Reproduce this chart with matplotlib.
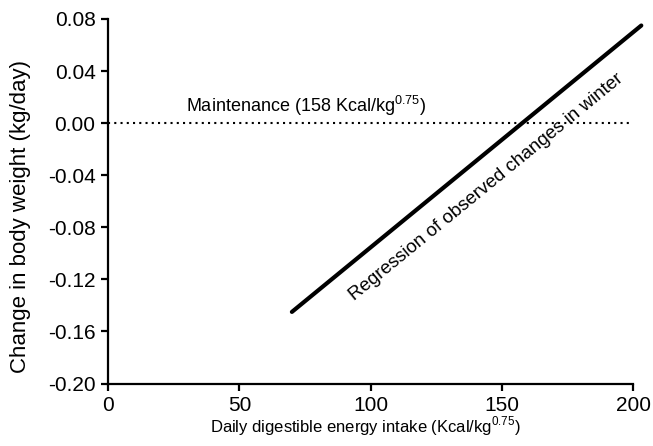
import numpy as np
import matplotlib
matplotlib.use('Agg')
from matplotlib import pyplot as plt

plt.rcParams['font.family'] = ['Liberation Sans', 'DejaVu Sans']
plt.rcParams['mathtext.fontset'] = 'custom'
plt.rcParams['mathtext.rm'] = 'Liberation Sans'

# Data
reg_x = [70, 203]
reg_y = [-0.145, 0.075]
maint_x = [0, 200]
maint_y = [0.0, 0.0]
xticks = [0, 50, 100, 150, 200]
yticks = [-0.20, -0.16, -0.12, -0.08, -0.04, 0.00, 0.04, 0.08]

fig = plt.figure(figsize=(6.53, 4.46), dpi=100)
ax = fig.add_axes([0.1654, 0.1401, 0.8046, 0.8173])

ax.plot(maint_x, maint_y, color='k', lw=1.5, linestyle=(0, (1, 2)))
ax.plot(reg_x, reg_y, color='k', lw=3, solid_capstyle='round', clip_on=False)

ax.text(29.5, 0.004, r'Maintenance (158 Kcal/kg$^{\mathrm{0.75}}$)', fontsize=13,
        ha='left', va='bottom')
ax.text(144, -0.049, 'Regression of observed changes in winter', fontsize=13.5,
        ha='center', va='center', rotation=39.3, rotation_mode='anchor')

ax.set_xlim(0, 200)
ax.set_ylim(-0.20, 0.08)
ax.set_xticks(xticks)
ax.set_yticks(yticks)
ax.set_yticklabels(['{:.2f}'.format(v) for v in yticks])
for s in ['top', 'right']:
    ax.spines[s].set_visible(False)
for s in ['left', 'bottom']:
    ax.spines[s].set_linewidth(1.6)
ax.tick_params(direction='out', length=5, width=1.6, labelsize=15, pad=4)

ax.set_xlabel(r'Daily digestible energy intake (Kcal/kg$^{\mathrm{0.75}}$)', fontsize=12)
ax.xaxis.set_label_coords(0.489, -0.086)
ax.set_ylabel('Change in body weight (kg/day)', fontsize=16)
ax.yaxis.set_label_coords(-0.147, 0.457)

fig.savefig('out.png', dpi=100)
plt.close()
